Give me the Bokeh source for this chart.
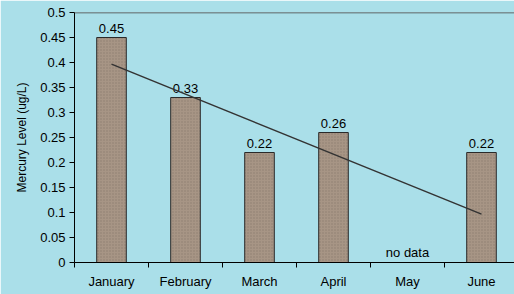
import numpy as np
from bokeh.plotting import figure
from bokeh.models import Range1d, FixedTicker, Span
from bokeh.core.properties import value
from bokeh.embed import file_html
from bokeh.resources import INLINE

# ---- data ----
months = ["January", "February", "March", "April", "May", "June"]
mercury = [0.45, 0.33, 0.22, 0.26, None, 0.22]
missing_note = "no data"
y_ticks = [0.0, 0.05, 0.1, 0.15, 0.2, 0.25, 0.3, 0.35, 0.4, 0.45, 0.5]
y_tick_labels = ["0", "0.05", "0.1", "0.15", "0.2", "0.25", "0.3", "0.35", "0.4", "0.45", "0.5"]
y_title = "Mercury Level (ug/L)"

# ---- style ----
BG = "#aadfe9"
BAR = "#a79585"
FONT = "Liberation Sans"
FS = "13px"

xc = [i + 0.5 for i in range(len(months))]
vals = [np.nan if v is None else v for v in mercury]

p = figure(width=514, height=294, x_range=Range1d(0, 5.946), y_range=Range1d(0, 0.5),
           output_backend="svg", toolbar_location=None,
           min_border_left=74, min_border_top=12, min_border_bottom=32, min_border_right=0)
p.background_fill_color = BG
p.border_fill_color = BG
p.outline_line_color = None
p.grid.visible = False

# bars
p.vbar(x=xc, top=vals, bottom=0, width=0.4, fill_color=BAR, line_color="#2a2a2a", line_width=1,
       hatch_pattern="dot", hatch_color="#6e6054", hatch_alpha=0.45, hatch_scale=3, hatch_weight=1)

# value labels
lx = [x for x, v in zip(xc, mercury) if v is not None]
ly = [v for v in mercury if v is not None]
lt = [f"{v:.2f}" for v in mercury if v is not None]
p.text(x=lx, y=ly, text=lt, text_align="center", text_baseline="bottom", y_offset=-5,
       text_font=value(FONT), text_font_size=FS, text_color="black")

# missing-data note
mx = [x for x, v in zip(xc, mercury) if v is None]
p.text(x=mx, y=[0] * len(mx), text=[missing_note] * len(mx), text_align="center",
       text_baseline="bottom", y_offset=-3, text_font=value(FONT), text_font_size=FS,
       text_color="black")

# linear trendline (missing month counted as 0, as the source spreadsheet did)
idx = np.arange(1, len(months) + 1)
yy = np.array([0 if v is None else v for v in mercury])
k, b = np.polyfit(idx, yy, 1)
p.line(x=[xc[0], xc[-1]], y=[k * idx[0] + b, k * idx[-1] + b], line_color="#333333", line_width=1.5)

# top border line
p.add_layout(Span(location=0.5, dimension="width", line_color="#3a3a3a", line_width=1.5))

# x axis
xa = p.xaxis[0]
xa.ticker = FixedTicker(ticks=xc, minor_ticks=list(range(len(months) + 1)))
xa.major_label_overrides = {float(x): m for x, m in zip(xc, months)}
xa.major_tick_line_color = None
xa.major_tick_out = 0
xa.major_tick_in = 0
xa.minor_tick_out = 5
xa.minor_tick_in = 0
xa.minor_tick_line_color = "black"
xa.axis_line_color = "black"
xa.major_label_standoff = 6
xa.major_label_text_font = FONT
xa.major_label_text_font_size = FS
xa.major_label_text_color = "black"

# y axis
ya = p.yaxis[0]
ya.ticker = FixedTicker(ticks=y_ticks, minor_ticks=[])
ya.major_label_overrides = {float(t): s for t, s in zip(y_ticks, y_tick_labels)}
ya.major_tick_out = 5
ya.major_tick_in = 0
ya.major_tick_line_color = "black"
ya.axis_line_color = "black"
ya.major_label_standoff = 4
ya.major_label_text_font = FONT
ya.major_label_text_font_size = FS
ya.major_label_text_color = "black"
ya.axis_label = y_title
ya.axis_label_text_font = FONT
ya.axis_label_text_font_size = "12px"
ya.axis_label_text_font_style = "normal"
ya.axis_label_text_color = "black"
ya.axis_label_standoff = 8

open("out.html", "w").write(file_html(p, INLINE))
